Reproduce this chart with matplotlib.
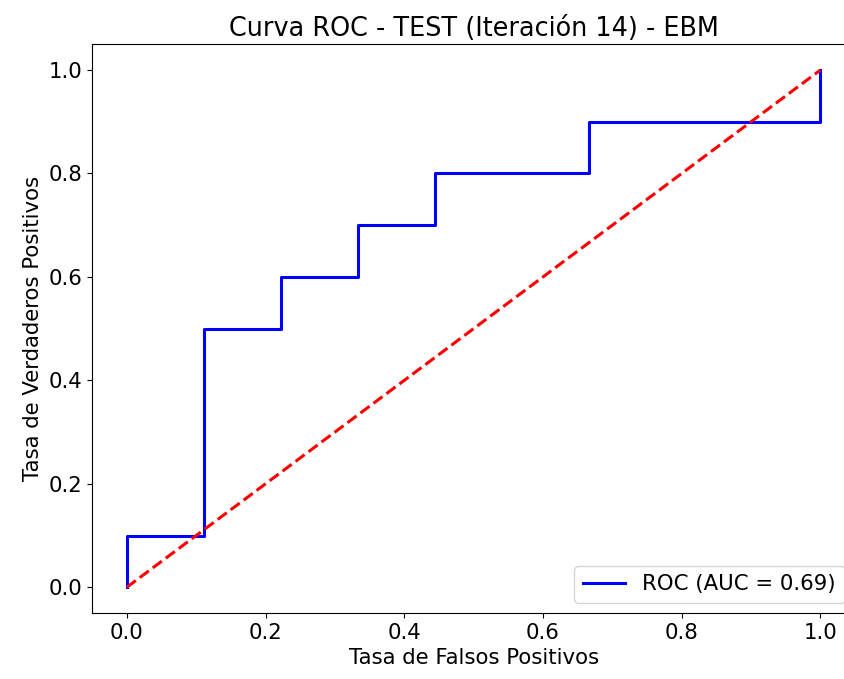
import matplotlib
matplotlib.use("Agg")
import matplotlib.pyplot as plt

# ROC points (false positive rate, true positive rate)
fpr = [0.0, 0.0, 1/9, 1/9, 2/9, 2/9, 3/9, 3/9, 4/9, 4/9, 6/9, 6/9, 1.0, 1.0]
tpr = [0.0, 0.1, 0.1, 0.5, 0.5, 0.6, 0.6, 0.7, 0.7, 0.8, 0.8, 0.9, 0.9, 1.0]
auc_value = 0.69

plt.rcParams['font.size'] = 15.3

fig = plt.figure(figsize=(8.45, 6.79), dpi=100)
# axes run slightly past the right border of the figure
ax = fig.add_axes([0.109, 0.097, 0.903, 0.838])
ax.plot(fpr, tpr, color='blue', lw=2.2, label=f'ROC (AUC = {auc_value:.2f})')
ax.plot([0, 1], [0, 1], color='red', lw=2.2, linestyle='--')
ax.set_title('Curva ROC - TEST (Iteración 14) - EBM')
ax.set_xlabel('Tasa de Falsos Positivos')
ax.set_ylabel('Tasa de Verdaderos Positivos')
ax.legend(loc='lower right')

fig.savefig('out.png', dpi=100)
